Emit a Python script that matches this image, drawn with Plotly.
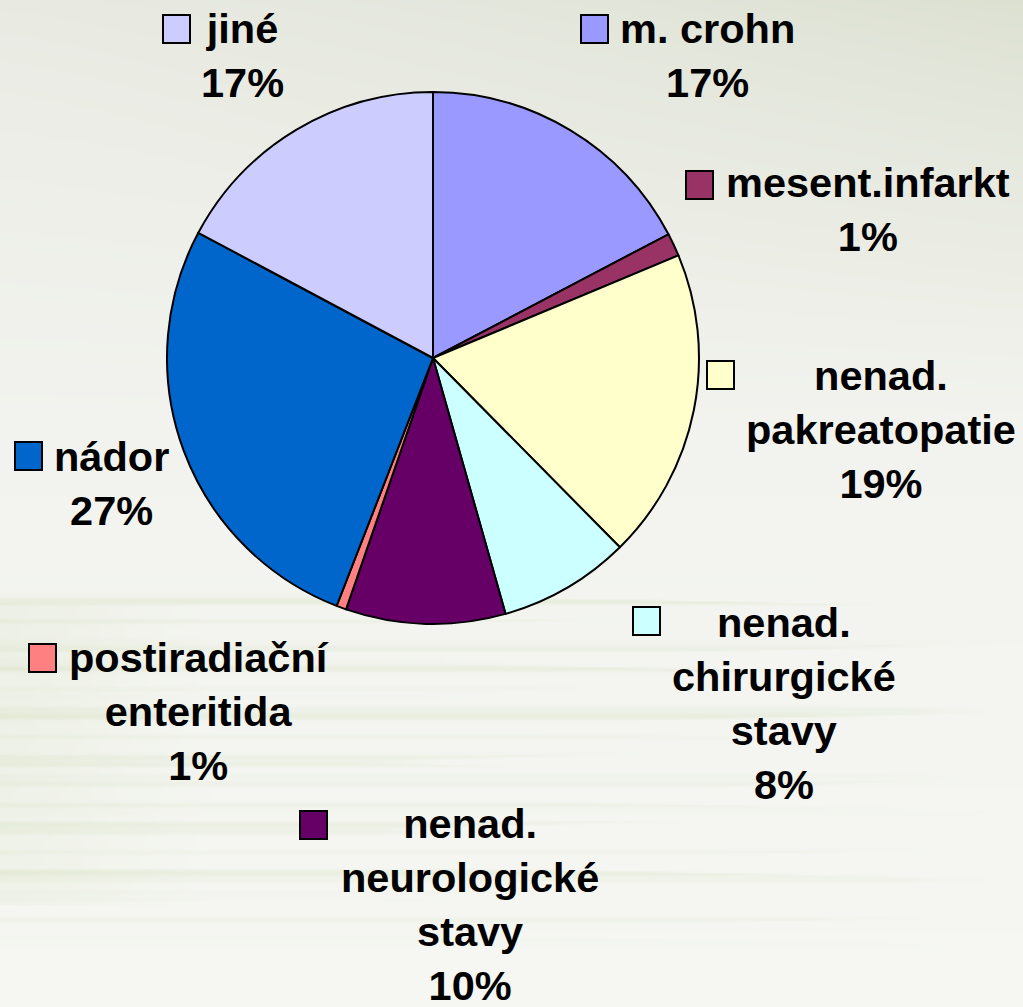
import base64, math, struct, zlib
import plotly.graph_objects as go

# ---------------- data ----------------
categories = ["m. crohn", "mesent.infarkt", "nenad. pakreatopatie",
              "nenad. chirurgické stavy", "nenad. neurologické stavy",
              "postiradiační enteritida", "nádor", "jiné"]
label_lines = [["m. crohn"], ["mesent.infarkt"], ["nenad.", "pakreatopatie"],
               ["nenad.", "chirurgické", "stavy"], ["nenad.", "neurologické", "stavy"],
               ["postiradiační", "enteritida"], ["nádor"], ["jiné"]]
values = [17.3, 1.4, 18.9, 8.0, 9.7, 0.6, 26.9, 17.2]
colors = ["#9999FF", "#993366", "#FFFFCC", "#CCFFFF", "#660066",
          "#FF8080", "#0066CC", "#CCCCFF"]

# ---------------- layout helpers (pixel positions of label blocks) ----------------
W, H = 1023, 1007
label_center_px = [(707, 56), (868, 210), (881, 429), (784, 703),
                   (470, 904), (199, 711), (111, 483), (242, 56)]
key_topleft_px = [(581, 15), (686, 171), (707, 361), (633, 607),
                  (300, 811), (29, 644), (15, 442), (163, 15)]
KEY_W, KEY_H = 27, 28
FS = 41.5


def px(x):
    return x / W


def py(y):
    return 1 - y / H


# ---------------- background texture as a small PNG ----------------
def lerp(a, b, t):
    return tuple(a[k] + (b[k] - a[k]) * t for k in range(3))


def make_bg(w=128, h=504):
    top_l = (232, 234, 226)
    top_r = (220, 224, 209)
    mid = (242, 243, 238)
    bot = (246, 247, 243)
    raw = bytearray()
    for j in range(h):
        yy = j / (h - 1)
        raw.append(0)
        for i in range(w):
            xx = i / (w - 1)
            if yy < 0.42:
                t = yy / 0.42
                top = lerp(top_l, top_r, xx ** 1.3)
                c = lerp(top, mid, t ** 0.8)
            else:
                c = lerp(mid, bot, (yy - 0.42) / 0.58)
            # streaky "paper stack" texture in the lower part
            amp = 0.0
            if 0.56 < yy < 0.95:
                edge = min((yy - 0.56) / 0.03, (0.95 - yy) / 0.06, 1.0)
                s = (math.sin(j * 0.55) + 0.7 * math.sin(j * 0.23 + 1.3)
                     + 0.5 * math.sin(j * 1.3 + 0.4)) / 2.2
                s = max(0.0, s)
                # streak length varies along x
                cut = 0.35 + 0.55 * (0.5 + 0.5 * math.sin(j * 0.37 + 2.0))
                wx = 1.0 if xx < cut else max(0.0, 1 - (xx - cut) / 0.08)
                amp = 14.0 * s * wx * edge
                if xx < 0.2 and 0.6 < yy < 0.9:
                    amp += 7.0 * (1 - xx / 0.2)
            c = (c[0] - amp * 0.9, c[1] - amp * 0.6, c[2] - amp * 1.4)
            raw.extend(bytes(max(0, min(255, int(round(v)))) for v in c))

    def chunk(tag, data):
        return (struct.pack(">I", len(data)) + tag + data +
                struct.pack(">I", zlib.crc32(tag + data) & 0xffffffff))

    png = b"\x89PNG\r\n\x1a\n"
    png += chunk(b"IHDR", struct.pack(">IIBBBBB", w, h, 8, 2, 0, 0, 0))
    png += chunk(b"IDAT", zlib.compress(bytes(raw), 9))
    png += chunk(b"IEND", b"")
    return "data:image/png;base64," + base64.b64encode(png).decode()


# ---------------- figure ----------------
total = sum(values)
pcts = [round(v / total * 100) for v in values]

cx, cy, r = 433, 358, 266
fig = go.Figure(go.Pie(
    labels=categories,
    values=values,
    sort=False,
    direction="clockwise",
    rotation=0,
    marker=dict(colors=colors, line=dict(color="black", width=2)),
    textinfo="none",
    hoverinfo="label+percent",
    showlegend=False,
    domain=dict(x=[px(cx - r), px(cx + r)], y=[py(cy + r), py(cy - r)]),
))

annotations = []
shapes = []
for lines, p, (lx, ly), (kx, ky), col in zip(label_lines, pcts, label_center_px,
                                              key_topleft_px, colors):
    txt = "<br>".join(lines + [f"{p}%"])
    annotations.append(dict(
        x=px(lx), y=py(ly), xref="paper", yref="paper",
        xanchor="center", yanchor="middle", showarrow=False,
        text=f"<b>{txt}</b>", align="center",
        font=dict(family="Liberation Sans, Arial, sans-serif", size=FS, color="black"),
    ))
    shapes.append(dict(
        type="rect", xref="paper", yref="paper",
        x0=px(kx), x1=px(kx + KEY_W), y0=py(ky + KEY_H), y1=py(ky),
        fillcolor=col, line=dict(color="black", width=2), layer="above",
    ))

fig.update_layout(
    width=W, height=H,
    margin=dict(l=0, r=0, t=0, b=0),
    paper_bgcolor="#F2F3EF",
    plot_bgcolor="rgba(0,0,0,0)",
    annotations=annotations,
    shapes=shapes,
    images=[dict(source=make_bg(), xref="paper", yref="paper", x=0, y=1,
                 sizex=1, sizey=1, xanchor="left", yanchor="top",
                 sizing="stretch", layer="below")],
)

fig.write_html(
    "out.html",
    config={"displayModeBar": False},
    post_script="document.body.style.margin='0';document.body.style.background='#F4F5F1';",
)
